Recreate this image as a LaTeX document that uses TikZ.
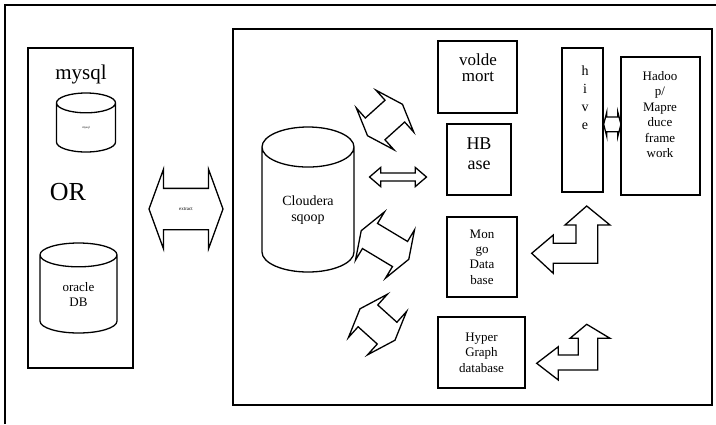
\documentclass[tikz,border=0pt]{standalone}
\usepackage{fontspec}
\setmainfont{Liberation Serif}
\usetikzlibrary{shapes.geometric, shapes.arrows, positioning}

\tikzset{
  frame/.style={draw, line width=1.3pt, inner sep=0pt, outer sep=0pt},
  store/.style={cylinder, draw, line width=1.3pt, shape border rotate=90, inner sep=0pt, outer sep=0pt, align=center, anchor=shape center},
  swap/.style={double arrow, draw, line width=1.3pt, inner xsep=0pt, outer sep=0pt},
  bent/.style={draw, line width=1.3pt, line join=miter},
  txt/.style={align=center, inner sep=0pt, font=\fontsize{13}{15.4}\selectfont},
}

\begin{document}
\begin{tikzpicture}[x=1pt, y=-1pt]
  \useasboundingbox[fill=white] (0,0) rectangle (716,424);
  \draw[line width=1.3pt] (5,424) -- (5,5) -- (716,5);

  % source side
  \node[frame, minimum width=105, minimum height=320] (sources) at (80.5,208) {};
  \node[txt, font=\fontsize{21}{24}\selectfont] (mysqllabel) at (81,74) {mysql};
  \node[store, minimum width=59, minimum height=59, aspect=2.7, font=\fontsize{3}{3.5}\selectfont] (mysql) at (86,122.5) {mysql};
  \node[txt, font=\fontsize{26}{30}\selectfont] (orlabel) at (68,192.5) {OR};
  \node[store, minimum width=77, minimum height=90, aspect=0.75, txt] (oracle) at (78.5,288) {oracle\\DB};

  \node[swap, minimum height=74, minimum width=78, double arrow head extend=19, inner ysep=18,
        double arrow tip angle=140, text height=3pt, text depth=1pt, font=\fontsize{5}{6}\selectfont] (extract) at (186,209) {extract};

  % cluster side
  \node[frame, minimum width=479, minimum height=376] (cluster) at (472.5,217) {};
  \node[store, minimum width=92, minimum height=145, aspect=0.78, txt, font=\fontsize{14}{16}\selectfont] (sqoop) at (308,199.5) {Cloudera\\sqoop};

  \node[frame, minimum width=79, minimum height=72] (voldemort) at (477.5,77) {};
  \node[txt, font=\fontsize{17}{16}\selectfont] (voldetext) at (478,68) {volde\\mort};
  \node[frame, minimum width=64, minimum height=71] (hbase) at (479,159.5) {};
  \node[txt, font=\fontsize{18}{20}\selectfont] (hbasetext) at (479,154) {HB\\ase};
  \node[frame, minimum width=70, minimum height=80, txt] (mongo) at (482,257) {Mon\\go\\Data\\base};
  \node[frame, minimum width=87, minimum height=71, txt] (hyper) at (481.5,352.5) {Hyper\\Graph\\database};
  \node[frame, minimum width=41, minimum height=144] (hive) at (582.5,120) {};
  \node[txt, font=\fontsize{14}{18}\selectfont] (hivetext) at (585,97.5) {h\\i\\v\\e};
  \node[frame, minimum width=79, minimum height=138] (hadoop) at (660.5,126) {};
  \node[txt] (hadooptext) at (660,114.5) {Hadoo\\p/\\Mapre\\duce\\frame\\work};

  % two-way block arrows
  \node[swap, minimum height=47, minimum width=55, double arrow head extend=13.5, inner ysep=14,
        double arrow tip angle=140, rotate=42] (tovolde) at (385,120) {};
  \node[swap, minimum height=57, minimum width=18, double arrow head extend=5.7, inner ysep=3.3,
        double arrow tip angle=81] (tohbase) at (398,177) {};
  \node[swap, minimum height=55.5, minimum width=55, double arrow head extend=13.5, inner ysep=14,
        double arrow tip angle=140, rotate=-31] (tomongo) at (385,245) {};
  \node[swap, minimum height=47, minimum width=57, double arrow head extend=14.5, inner ysep=14,
        double arrow tip angle=140, rotate=-42] (tohyper) at (377.5,324.5) {};
  \node[swap, minimum height=17.3, minimum width=23.4, double arrow head extend=5, inner ysep=6.7,
        double arrow tip angle=151] (tohadoop) at (612.3,124.3) {};

  % bent arrows up to hive
  \draw[bent] (531.7,253.3) -- (553.3,235) -- (553.3,243.3) -- (576,243.3) -- (576,225)
    -- (565,225) -- (586.7,206) -- (610,225) -- (597.7,225) -- (597.7,263.3)
    -- (553.3,263.3) -- (553.3,273.3) -- cycle;
  \draw[bent] (536.7,363.3) -- (558.3,346.7) -- (558.3,355) -- (578.3,355) -- (578.3,338.3)
    -- (570,338.3) -- (586.7,324.3) -- (610,338.3) -- (597.7,338.3) -- (597.7,370)
    -- (558.3,370) -- (558.3,380) -- cycle;
\end{tikzpicture}
\end{document}
